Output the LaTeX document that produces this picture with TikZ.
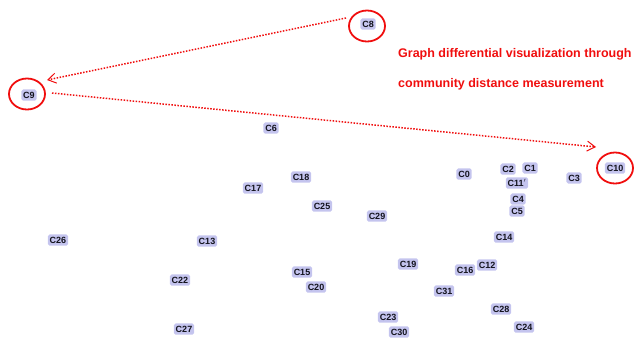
\documentclass[tikz,border=0pt]{standalone}
\usepackage{fontspec}
\setmainfont{Liberation Sans}
\usetikzlibrary{arrows.meta,shapes.geometric}
\definecolor{boxfill}{RGB}{196,196,238}
\definecolor{hilite}{RGB}{240,14,14}
\definecolor{labelink}{RGB}{20,20,30}
\tikzset{
  comm/.style={fill=boxfill, text=labelink, rounded corners=1.6pt, inner xsep=1.8pt, inner ysep=2.3pt,
    text height=6.5pt, text depth=0pt, font=\fontsize{9}{10}\selectfont\bfseries},
  ring/.style={draw=hilite, line width=1.8pt, ellipse, minimum width=36pt, minimum height=31pt, inner sep=0pt},
  jump/.style={draw=hilite, line width=1.5pt, dash pattern=on 1.5pt off 1.5pt,
    -{Straight Barb[length=8pt,width=10pt,line width=1pt]}},
  caption/.style={text=hilite, anchor=base west, inner sep=0pt, font=\fontsize{12.5}{14}\selectfont\bfseries}
}
\begin{document}
\begin{tikzpicture}[x=1pt,y=-1pt]
\useasboundingbox (0,0) rectangle (636,341);

% highlighted communities
\node[comm] (c8) at (368,24) {C8};
\node[comm] (c9) at (29,95) {C9};
\node[comm] (c10) at (615,168) {C10};
\node[ring] (o8) at (367,26) {};
\node[ring] (o9) at (27,94) {};
\node[ring] (o10) at (615,168) {};

% remaining communities
\node[comm] (c6) at (271,128) {C6};
\node[comm] (c18) at (301,177) {C18};
\node[comm] (c17) at (253,188) {C17};
\node[comm] (c25) at (322,206) {C25};
\node[comm] (c29) at (377,216) {C29};
\node[comm] (c0) at (464,174) {C0};
\node[comm] (c2) at (508,169) {C2};
\node[comm] (c1) at (530,168) {C1};
\node[comm] (c11) at (517,183) {C11$'$};
\node[comm] (c3) at (574,178) {C3};
\node[comm] (c4) at (518,199) {C4};
\node[comm] (c5) at (517,211) {C5};
\node[comm] (c14) at (504,237) {C14};
\node[comm] (c26) at (58,240) {C26};
\node[comm] (c13) at (207,241) {C13};
\node[comm] (c22) at (180,280) {C22};
\node[comm] (c15) at (302,272) {C15};
\node[comm] (c20) at (316,287) {C20};
\node[comm] (c19) at (408,264) {C19};
\node[comm] (c16) at (465,270) {C16};
\node[comm] (c12) at (487,265) {C12};
\node[comm] (c31) at (444,291) {C31};
\node[comm] (c28) at (501,309) {C28};
\node[comm] (c23) at (388,317) {C23};
\node[comm] (c30) at (399,332) {C30};
\node[comm] (c24) at (524,327) {C24};
\node[comm] (c27) at (184,329) {C27};

% distance arrows between the highlighted communities
\coordinate (s8) at (346,18);
\coordinate (t9) at (47,80);
\coordinate (s9) at (52,93);
\coordinate (t10) at (596,147);
\draw[jump] (s8) -- (t9);
\draw[jump] (s9) -- (t10);

% caption
\node[caption] (cap1) at (398,57) {Graph differential visualization through};
\node[caption] (cap2) at (398,87) {community distance measurement};
\end{tikzpicture}
\end{document}
